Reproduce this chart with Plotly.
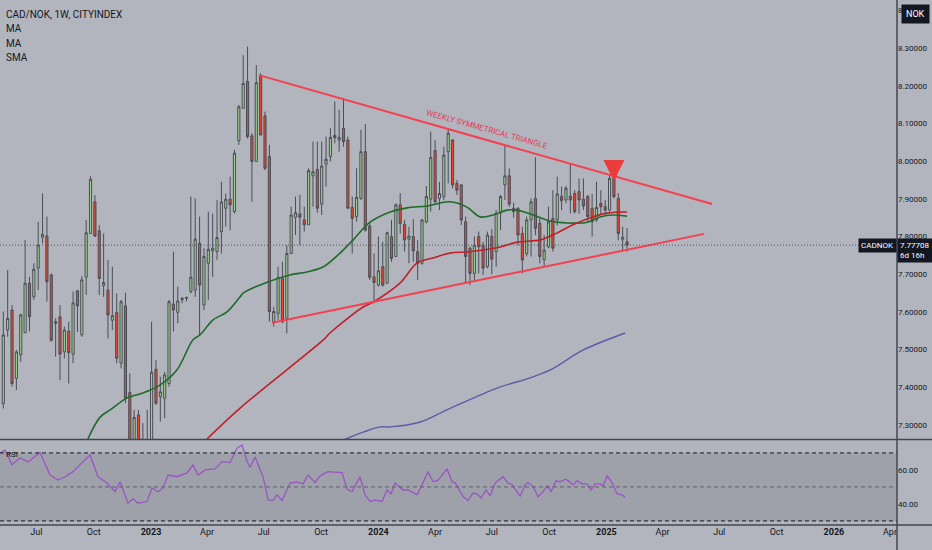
import numpy as np
import pandas as pd
import plotly.graph_objects as go

# weekly CAD/NOK candles, one per week starting Monday 2022-05-09
first_week = "2022-05-09"

opens = [
    7.357, 7.552, 7.605, 7.424, 7.486, 7.545, 7.676, 7.640, 7.716, 7.798,
    7.801, 7.698, 7.574, 7.587, 7.494, 7.549, 7.488, 7.656, 7.539, 7.692,
    7.808, 7.892, 7.815, 7.670, 7.658, 7.578, 7.599, 7.464, 7.616, 7.386,
    7.230, 7.327, 7.240, 7.250, 7.245, 7.448, 7.375, 7.371, 7.410, 7.621,
    7.599, 7.632, 7.636, 7.654, 7.658, 7.782, 7.618, 7.729, 7.762, 7.760,
    7.813, 7.875, 7.899, 7.866, 8.054, 8.140, 8.211, 8.067, 7.999, 8.226,
    8.120, 8.012, 7.574, 7.596, 7.689, 7.583, 7.755, 7.851, 7.860, 7.844,
    7.831, 7.961, 7.978, 7.886, 7.992, 8.012, 8.068, 8.056, 8.087, 8.056,
    7.877, 7.853, 7.901, 8.025, 7.828, 7.693, 7.671, 7.720, 7.676, 7.800,
    7.747, 7.884, 7.832, 7.793, 7.800, 7.760, 7.729, 7.839, 7.899, 8.028,
    7.901, 7.906, 8.025, 8.056, 7.941, 7.937, 7.839, 7.769, 7.702, 7.800,
    7.777, 7.720, 7.800, 7.760, 7.862, 7.937, 7.961, 7.875, 7.875, 7.808,
    7.755, 7.844, 7.901, 7.835, 7.738, 7.773, 7.848, 7.844, 7.907, 7.897,
    7.907, 7.914, 7.919, 7.899, 7.906, 7.875, 7.844, 7.888, 7.879, 7.870,
    7.990, 7.901, 7.793, 7.786,
]
highs = [
    7.601, 7.711, 7.618, 7.499, 7.596, 7.791, 7.693, 7.729, 7.839, 7.914,
    7.853, 7.702, 7.583, 7.618, 7.561, 7.574, 7.654, 7.658, 7.695, 7.844,
    7.960, 7.910, 7.830, 7.808, 7.738, 7.720, 7.649, 7.632, 7.651, 7.437,
    7.340, 7.340, 7.305, 7.340, 7.574, 7.472, 7.428, 7.441, 7.632, 7.760,
    7.667, 7.640, 7.641, 7.906, 7.901, 7.853, 7.769, 7.866, 7.861, 7.897,
    7.945, 7.914, 7.959, 8.030, 8.149, 8.281, 8.304, 8.074, 8.255, 8.233,
    8.131, 8.043, 7.614, 7.720, 7.733, 7.777, 7.879, 7.906, 7.910, 7.879,
    7.981, 8.052, 8.052, 8.052, 8.065, 8.087, 8.158, 8.136, 8.167, 8.065,
    7.906, 7.981, 8.083, 8.098, 7.837, 7.755, 7.800, 7.786, 7.813, 7.844,
    7.888, 7.915, 7.844, 7.826, 7.846, 7.791, 7.846, 7.934, 8.078, 8.056,
    7.945, 8.038, 8.084, 8.058, 7.950, 7.937, 7.853, 7.773, 7.800, 7.813,
    7.786, 7.813, 7.820, 7.870, 7.910, 8.043, 7.981, 7.890, 7.877, 7.826,
    7.853, 7.901, 8.010, 7.848, 7.804, 7.879, 7.923, 7.959, 7.932, 7.934,
    7.994, 7.923, 7.954, 7.954, 7.910, 7.913, 7.945, 7.923, 7.897, 7.963,
    7.994, 7.915, 7.826, 7.822,
]
lows = [
    7.344, 7.534, 7.402, 7.393, 7.468, 7.545, 7.548, 7.632, 7.658, 7.782,
    7.627, 7.521, 7.481, 7.419, 7.477, 7.410, 7.464, 7.547, 7.534, 7.645,
    7.808, 7.800, 7.645, 7.640, 7.530, 7.552, 7.464, 7.450, 7.358, 7.200,
    7.205, 7.210, 7.190, 7.200, 7.220, 7.353, 7.309, 7.318, 7.402, 7.548,
    7.570, 7.623, 7.628, 7.649, 7.640, 7.539, 7.605, 7.632, 7.693, 7.738,
    7.755, 7.826, 7.817, 7.861, 8.043, 8.140, 8.060, 7.892, 7.999, 8.069,
    7.976, 7.574, 7.561, 7.579, 7.570, 7.543, 7.755, 7.804, 7.777, 7.813,
    7.831, 7.879, 7.863, 7.857, 7.932, 7.999, 8.047, 8.025, 8.038, 7.875,
    7.755, 7.839, 7.897, 7.813, 7.685, 7.623, 7.667, 7.667, 7.676, 7.733,
    7.747, 7.808, 7.760, 7.729, 7.733, 7.685, 7.725, 7.835, 7.866, 7.888,
    7.870, 7.897, 7.941, 7.928, 7.910, 7.830, 7.676, 7.671, 7.680, 7.702,
    7.698, 7.716, 7.700, 7.720, 7.817, 7.897, 7.879, 7.850, 7.777, 7.702,
    7.747, 7.747, 7.804, 7.729, 7.720, 7.769, 7.760, 7.830, 7.870, 7.888,
    7.861, 7.861, 7.861, 7.870, 7.839, 7.800, 7.839, 7.857, 7.857, 7.866,
    7.901, 7.790, 7.764, 7.760,
]
closes = [
    7.539, 7.583, 7.410, 7.494, 7.592, 7.676, 7.587, 7.713, 7.777, 7.806,
    7.680, 7.525, 7.570, 7.488, 7.552, 7.492, 7.624, 7.616, 7.685, 7.810,
    7.952, 7.801, 7.689, 7.678, 7.592, 7.590, 7.477, 7.627, 7.371, 7.230,
    7.320, 7.240, 7.255, 7.245, 7.440, 7.358, 7.388, 7.433, 7.627, 7.605,
    7.629, 7.636, 7.638, 7.692, 7.793, 7.671, 7.747, 7.766, 7.769, 7.797,
    7.892, 7.899, 7.884, 8.021, 8.144, 8.206, 8.065, 7.999, 8.208, 8.069,
    7.981, 7.601, 7.601, 7.692, 7.574, 7.755, 7.857, 7.863, 7.851, 7.831,
    7.975, 7.972, 7.875, 7.987, 8.005, 8.063, 8.062, 8.063, 8.052, 7.875,
    7.848, 7.904, 8.025, 7.817, 7.692, 7.678, 7.709, 7.671, 7.810, 7.742,
    7.884, 7.835, 7.791, 7.801, 7.762, 7.729, 7.844, 7.906, 8.010, 7.892,
    7.914, 8.016, 8.074, 7.937, 7.923, 7.844, 7.747, 7.702, 7.777, 7.773,
    7.716, 7.804, 7.740, 7.862, 7.906, 7.961, 7.886, 7.866, 7.804, 7.738,
    7.844, 7.892, 7.822, 7.747, 7.764, 7.839, 7.769, 7.913, 7.895, 7.928,
    7.897, 7.866, 7.897, 7.881, 7.853, 7.839, 7.877, 7.879, 7.870, 7.954,
    7.906, 7.808, 7.798, 7.77708,
]
last_price = 7.77708

# moving averages (week index from first_week, value)
ma_slow_wk = [19.4, 22.2, 24.5, 28.4, 32.0, 35.9, 39.8, 43.5, 45.1, 48.1, 51.3, 54.3,
              55.0, 60.5, 65.7, 69.6, 73.3, 77.2, 80.2, 84.1, 88.7, 92.6, 97.2, 102.4,
              106.3, 109.3, 112.3, 115.5, 117.8, 121.5, 125.4, 129.3, 133.9, 136.8,
              139.8, 143.0]
ma_slow_val = [7.263, 7.321, 7.340, 7.372, 7.385, 7.406, 7.446, 7.526, 7.539, 7.579,
               7.600, 7.640, 7.650, 7.679, 7.698, 7.706, 7.719, 7.756, 7.791, 7.838,
               7.865, 7.876, 7.881, 7.892, 7.878, 7.852, 7.857, 7.870, 7.870, 7.857,
               7.841, 7.836, 7.838, 7.852, 7.857, 7.854]
ma_long_wk = [46.7, 54.3, 73.3, 74.9, 82.5, 84.8, 91.0, 94.9, 98.5, 102.4, 106.3,
              110.0, 113.9, 117.8, 123.1, 126.9, 130.6, 134.5, 138.4, 143.0]
ma_long_val = [7.263, 7.345, 7.525, 7.544, 7.613, 7.626, 7.677, 7.730, 7.743, 7.756,
               7.759, 7.764, 7.772, 7.785, 7.791, 7.809, 7.831, 7.849, 7.862, 7.865]
sma_wk = [77.9, 82.5, 86.4, 88.7, 95.6, 101.7, 113.2, 120.8, 125.4, 133.0, 142.6]
sma_val = [7.260, 7.281, 7.295, 7.295, 7.308, 7.340, 7.398, 7.425, 7.446, 7.499, 7.544]

rsi_wk = [-0.76, 0.39, 1.99, 3.83, 5.66, 8.42, 10.71, 12.54, 14.15, 15.98,
          18.28, 19.88, 21.71, 23.78, 25.61, 26.76, 28.59, 29.74, 30.89, 32.95,
          34.1, 35.47, 36.62, 37.77, 39.83, 42.12, 43.5, 44.64, 46.25, 48.54,
          50.15, 51.98, 53.59, 54.74, 55.88, 56.57, 57.72, 59.55, 60.7, 61.84,
          62.76, 63.91, 65.74, 67.35, 68.72, 69.87, 71.47, 72.62, 74.45, 77.66,
          78.81, 79.95, 81.79, 82.94, 84.08, 85.23, 85.92, 86.84, 87.98, 88.9,
          89.82, 91.65, 92.8, 94.86, 96.01, 97.38, 98.53, 99.68, 101.74, 102.89,
          103.58, 105.41, 106.56, 107.7, 108.62, 109.54, 110.69, 111.6, 112.75, 114.59,
          115.73, 116.65, 118.48, 119.63, 120.32, 121.46, 122.61, 123.76, 124.67, 125.59,
          126.74, 127.66, 128.8, 129.49, 130.64, 131.56, 132.7, 133.85, 134.77, 135.68,
          136.83, 137.52, 138.43, 139.58, 140.73, 141.88, 142.56]
rsi_val = [69.8, 71.8, 63, 67, 64.7, 70.2, 57, 54, 56, 59,
           64.9, 68.8, 56, 52.3, 47.3, 53, 40.4, 43, 40.4, 41.4,
           49.4, 47.2, 49.4, 57, 56, 58.2, 62.9, 57, 60, 60.6,
           64.9, 64.3, 72.7, 74.7, 64.9, 61.6, 67.6, 56, 42.4, 42,
           45.3, 42, 52.3, 52.9, 51.8, 57, 52.6, 56.5, 59, 58.4,
           48.8, 47.3, 56, 45.3, 41.4, 42.4, 42, 41.4, 48.2, 45.9,
           52.3, 48.2, 48.2, 45.3, 51.2, 59, 53, 54, 60.6, 53,
           52.6, 44.3, 42, 46.5, 45.9, 43.5, 48.2, 44.7, 52.3, 56,
           52.3, 51.2, 44.7, 51.2, 52.6, 50.2, 44.3, 47.3, 50.6, 47.3,
           53.7, 53, 54.5, 53.7, 51.2, 53.7, 51.8, 51.8, 48.2, 51.8,
           51.8, 50.6, 56.6, 52.6, 45.9, 45.3, 43.9]

# hand drawn triangle
tri_upper_wk = [58.6, 162.5]
tri_upper_val = [8.228, 7.886]
tri_lower_wk = [61.6, 160.7]
tri_lower_val = [7.571, 7.807]
label_wk, label_val = 110.9, 8.083
arrow_wk, arrow_val = 140.0, 7.947

tick_dates = ["2022-07-01", "2022-10-01", "2023-01-01", "2023-04-01", "2023-07-01",
              "2023-10-01", "2024-01-01", "2024-04-01", "2024-07-01", "2024-10-01",
              "2025-01-01", "2025-04-01", "2025-07-01", "2025-10-01", "2026-01-01",
              "2026-04-01"]
tick_text = ["Jul", "Oct", "<b>2023</b>", "Apr", "Jul", "Oct", "<b>2024</b>", "Apr", "Jul",
             "Oct", "<b>2025</b>", "Apr", "Jul", "Oct", "<b>2026</b>", "Apr"]

BG = "#b2b5be"
INK = "#131722"
FONT = "Roboto, Liberation Sans, sans-serif"
start = pd.Timestamp(first_week)


def wk(values):
    return start + pd.to_timedelta(np.asarray(values, dtype=float) * 7, unit="D")


dates = pd.date_range(start, periods=len(closes), freq="7D")

fig = go.Figure()
fig.add_trace(go.Candlestick(
    x=dates, open=opens, high=highs, low=lows, close=closes,
    increasing=dict(line=dict(color="#4a4d56", width=1), fillcolor="#9fd18f"),
    decreasing=dict(line=dict(color="#4a4d56", width=1), fillcolor="#e8462c"),
    whiskerwidth=0, showlegend=False, hoverinfo="skip",
))
fig.add_trace(go.Scatter(x=wk(ma_slow_wk), y=ma_slow_val, mode="lines", line=dict(color="#1e6b2a", width=1.6, shape="spline"), hoverinfo="skip", showlegend=False))
fig.add_trace(go.Scatter(x=wk(ma_long_wk), y=ma_long_val, mode="lines", line=dict(color="#c0202a", width=1.6, shape="spline"), hoverinfo="skip", showlegend=False))
fig.add_trace(go.Scatter(x=wk(sma_wk), y=sma_val, mode="lines", line=dict(color="#5a5ca8", width=1.4, shape="spline"), hoverinfo="skip", showlegend=False))
fig.add_trace(go.Scatter(x=wk(tri_upper_wk), y=tri_upper_val, mode="lines", line=dict(color="#f5404f", width=2), hoverinfo="skip", showlegend=False))
fig.add_trace(go.Scatter(x=wk(tri_lower_wk), y=tri_lower_val, mode="lines", line=dict(color="#f5404f", width=2), hoverinfo="skip", showlegend=False))
fig.add_trace(go.Scatter(x=wk(rsi_wk), y=rsi_val, mode="lines", line=dict(color="#9a55c4", width=1.3), yaxis="y2", hoverinfo="skip", showlegend=False))

x_left = wk([-0.757])[0]
x_right = wk([204.9])[0]

shapes = [
    # RSI band and levels
    dict(type="rect", xref="paper", yref="y2", x0=0, x1=1, y0=30, y1=70, fillcolor="#9ea1aa", line=dict(width=0), layer="below"),
    dict(type="line", xref="paper", yref="y2", x0=0, x1=1, y0=70, y1=70, line=dict(color=INK, width=1, dash="4px,3px")),
    dict(type="line", xref="paper", yref="y2", x0=0, x1=1, y0=30, y1=30, line=dict(color=INK, width=1, dash="4px,3px")),
    dict(type="line", xref="paper", yref="y2", x0=0, x1=1, y0=50, y1=50, line=dict(color="#5d606b", width=1, dash="4px,3px")),
    # last price line
    dict(type="line", xref="paper", yref="y", x0=0, x1=0.967, y0=last_price, y1=last_price, line=dict(color="#50535e", width=1, dash="1px,2px")),
    # pane separators
    dict(type="line", xref="paper", yref="paper", x0=0, x1=1.04, y0=0.1628, y1=0.1628, line=dict(color="#434651", width=1.5)),
    dict(type="line", xref="paper", yref="paper", x0=0, x1=1.04, y0=0, y1=0, line=dict(color="#434651", width=1.5)),
    dict(type="line", xref="paper", yref="paper", x0=1, x1=1, y0=-0.05, y1=1, line=dict(color="#434651", width=1.5)),
]

annotations = [
    dict(xref="paper", yref="paper", x=0.004, y=0.973, text="CAD/NOK, 1W, CITYINDEX", showarrow=False, xanchor="left", yanchor="middle", font=dict(size=10, color=INK, family=FONT)),
    dict(xref="paper", yref="paper", x=0.004, y=0.945, text="MA", showarrow=False, xanchor="left", yanchor="middle", font=dict(size=10, color=INK, family=FONT)),
    dict(xref="paper", yref="paper", x=0.004, y=0.918, text="MA", showarrow=False, xanchor="left", yanchor="middle", font=dict(size=10, color=INK, family=FONT)),
    dict(xref="paper", yref="paper", x=0.004, y=0.891, text="SMA", showarrow=False, xanchor="left", yanchor="middle", font=dict(size=10, color=INK, family=FONT)),
    dict(xref="paper", yref="paper", x=0.004, y=0.134, text="RSI", showarrow=False, xanchor="left", yanchor="middle", font=dict(size=8, color=INK, family=FONT)),
    dict(xref="paper", yref="paper", x=1.0201, y=0.973, text="NOK", showarrow=False, xanchor="center", yanchor="middle", bgcolor=INK, borderpad=4, font=dict(size=9, color="white", family=FONT)),
    dict(xref="paper", yref="y", x=1.0, y=last_price, text="CADNOK", showarrow=False, xanchor="right", yanchor="middle", bgcolor=INK, borderpad=2, font=dict(size=8, color="white", family=FONT)),
    dict(xref="paper", yref="y", x=1.0, y=last_price, text="7.77708<br>6d 16h", showarrow=False, xanchor="left", yanchor="top", yshift=7, align="left", bgcolor=INK, borderpad=2, font=dict(size=8, color="white", family=FONT)),
    dict(x=wk([label_wk])[0], y=label_val, text="WEEKLY SYMMETRICAL TRIANGLE", showarrow=False, textangle=15.6, font=dict(size=8, color="#e23a55", family=FONT)),
    dict(x=wk([arrow_wk])[0], y=arrow_val, text="", showarrow=True, arrowhead=2, arrowsize=0.7, arrowwidth=6, arrowcolor="#ec3b3b", ax=0, ay=-17),
]

fig.update_layout(
    width=932, height=550,
    margin=dict(l=0, r=35, t=0, b=25),
    paper_bgcolor=BG, plot_bgcolor=BG,
    font=dict(family=FONT, size=9, color=INK),
    showlegend=False,
    shapes=shapes, annotations=annotations,
    xaxis=dict(
        range=[x_left, x_right], anchor="y2", rangeslider=dict(visible=False),
        tickvals=tick_dates, ticktext=tick_text, showgrid=False, zeroline=False,
        showline=False, ticks="", tickfont=dict(size=9, color=INK),
    ),
    yaxis=dict(
        domain=[0.1638, 1], range=[7.2629, 8.4273], side="right", showgrid=False,
        zeroline=False, tick0=7.3, dtick=0.1, tickformat=".5f", ticks="",
        tickfont=dict(size=8, color=INK), fixedrange=True,
    ),
    yaxis2=dict(
        domain=[0, 0.1619], range=[27.6, 77.6], side="right", showgrid=False,
        zeroline=False, tickvals=[40, 60], tickformat=".2f", ticks="",
        tickfont=dict(size=8, color=INK),
    ),
)

# the page body keeps its default 8px margin otherwise
fig.write_html(
    "out.html",
    config={"displayModeBar": False},
    post_script="document.body.style.margin='0';document.body.style.background='" + BG + "';",
)
